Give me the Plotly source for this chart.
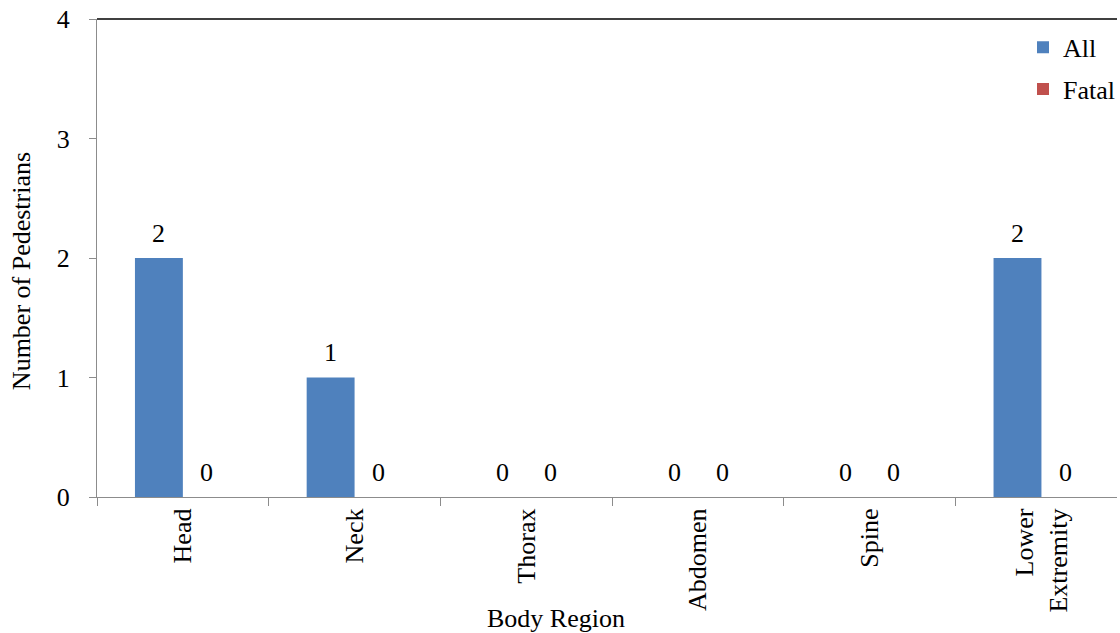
import plotly.graph_objects as go

categories = ["Head", "Neck", "Thorax", "Abdomen", "Spine", "Lower<br>Extremity"]
all_vals = [2, 1, 0, 0, 0, 2]
fatal_vals = [0, 0, 0, 0, 0, 0]
series_names = ["All", "Fatal"]
colors = ["#4F81BD", "#C0504D"]
y_ticks = [0, 1, 2, 3, 4]

FONT = "Liberation Serif, Times New Roman, serif"
FS = 26

fig = go.Figure()
for name, vals, col in zip(series_names, [all_vals, fatal_vals], colors):
    fig.add_trace(go.Bar(x=categories, y=vals, name=name, marker_color=col,
                         marker_line_width=0, legendgroup=name))

annotations = []
for vals, shift in [(all_vals, -24), (fatal_vals, 24)]:
    for c, v in zip(categories, vals):
        annotations.append(dict(x=c, y=v, xref="x", yref="y", text=str(v),
                                showarrow=False, xshift=shift, yshift=25,
                                yanchor="middle",
                                font=dict(family=FONT, size=FS, color="#000")))

annotations.append(dict(x=0.4497, y=-0.255, xref="paper", yref="paper",
                        text="Body Region", showarrow=False,
                        xanchor="center", yanchor="middle",
                        font=dict(family=FONT, size=FS, color="#000")))
annotations.append(dict(x=-0.0733, y=0.473, xref="paper", yref="paper",
                        text="Number of Pedestrians", showarrow=False,
                        textangle=-90, xanchor="center", yanchor="middle",
                        font=dict(family=FONT, size=FS, color="#000")))

fig.update_layout(
    width=1120, height=633,
    margin=dict(l=97, r=0, t=19, b=136, pad=0),
    plot_bgcolor="white", paper_bgcolor="white",
    barmode="group", bargap=0.442, bargroupgap=0,
    font=dict(family=FONT, size=FS, color="#000"),
    showlegend=True,
    legend=dict(x=1.003, xanchor="right", y=0.99, yanchor="top",
                bgcolor="rgba(0,0,0,0)", font=dict(family=FONT, size=FS),
                itemwidth=30, traceorder="grouped", tracegroupgap=5),
    annotations=annotations,
    shapes=[dict(type="line", xref="paper", yref="paper", x0=0, x1=1, y0=1, y1=1,
                 line=dict(color="#000", width=1.5))],
)
fig.update_xaxes(range=[-0.5, 5.44], showline=True, linecolor="#8c8c8c",
                 linewidth=1.3, ticks="outside", tickson="boundaries",
                 ticklen=8, tickcolor="#8c8c8c", tickangle=-90,
                 showgrid=False, zeroline=False,
                 tickfont=dict(family=FONT, size=FS, color="#000"))
fig.update_yaxes(range=[0, 4], tickvals=y_ticks, showline=True,
                 linecolor="#8c8c8c", linewidth=1.3, ticks="outside",
                 ticklen=7, tickcolor="#8c8c8c", showgrid=False, zeroline=False,
                 ticklabelstandoff=14,
                 tickfont=dict(family=FONT, size=FS, color="#000"))

fig.write_html("out.html")
